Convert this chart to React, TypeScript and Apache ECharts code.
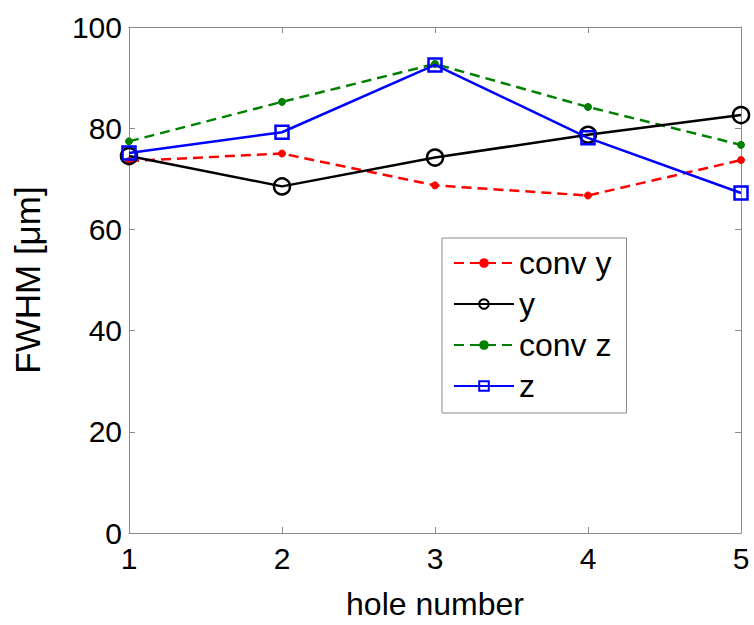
import React, { useEffect, useRef } from "react";
import * as echarts from "echarts";

const holes = [1, 2, 3, 4, 5];
const convY = [73.5, 75.0, 68.7, 66.7, 73.7];
const yVals = [74.5, 68.5, 74.2, 78.7, 82.6];
const convZ = [77.4, 85.2, 92.7, 84.2, 76.7];
const zVals = [75.1, 79.2, 92.5, 78.1, 67.2];

const FONT = "Liberation Sans, Arial, sans-serif";
const AXIS_GRAY = "#8c8c8c";

function pairs(vals: number[]) {
  return holes.map((h, i) => [h, vals[i]]);
}

export default function App() {
  const ref = useRef<HTMLDivElement>(null);
  useEffect(() => {
    if (!ref.current) return;
    const chart = echarts.init(ref.current, null, { renderer: "svg" });
    const axisCommon = {
      axisLine: { show: true, onZero: false, lineStyle: { color: AXIS_GRAY, width: 1 } },
      axisTick: { show: true, inside: true, length: 6, lineStyle: { color: AXIS_GRAY } },
      splitLine: { show: false },
    };
    chart.setOption({
      animation: false,
      backgroundColor: "#ffffff",
      grid: { left: 129, right: 13, top: 27, bottom: 91, containLabel: false },
      xAxis: [
        {
          type: "value",
          min: 1,
          max: 5,
          interval: 1,
          position: "bottom",
          ...axisCommon,
          axisLabel: { color: "#000", fontSize: 30, fontFamily: FONT, margin: 10 },
          name: "hole number",
          nameLocation: "middle",
          nameGap: 55,
          nameTextStyle: { color: "#000", fontSize: 32, fontFamily: FONT },
        },
        {
          type: "value",
          min: 1,
          max: 5,
          interval: 1,
          position: "top",
          ...axisCommon,
          axisLabel: { show: false },
        },
      ],
      yAxis: [
        {
          type: "value",
          min: 0,
          max: 100,
          interval: 20,
          position: "left",
          ...axisCommon,
          axisLabel: { color: "#000", fontSize: 30, fontFamily: FONT, margin: 7 },
          name: "FWHM [μm]",
          nameLocation: "middle",
          nameGap: 84,
          nameTextStyle: { color: "#000", fontSize: 35, fontFamily: FONT },
        },
        {
          type: "value",
          min: 0,
          max: 100,
          interval: 20,
          position: "right",
          ...axisCommon,
          axisLabel: { show: false },
        },
      ],
      legend: {
        show: true,
        orient: "vertical",
        left: 442,
        top: 238,
        itemWidth: 60,
        itemHeight: 12,
        itemGap: 9,
        padding: [9, 15, 11, 11],
        borderColor: AXIS_GRAY,
        borderWidth: 1,
        backgroundColor: "#ffffff",
        textStyle: { color: "#000", fontSize: 32, fontFamily: FONT },
        data: ["conv y", "y", "conv z", "z"],
      },
      series: [
        {
          name: "conv y",
          type: "line",
          data: pairs(convY),
          lineStyle: { color: "#ff0000", width: 2.5, type: [10, 6] },
          itemStyle: { color: "#ff0000", borderColor: "#ff0000" },
          symbol: "circle",
          symbolSize: 7,
          z: 2,
        },
        {
          name: "y",
          type: "line",
          data: pairs(yVals),
          lineStyle: { color: "#000000", width: 2.5 },
          itemStyle: { color: "rgba(0,0,0,0)", borderColor: "#000000", borderWidth: 2.5 },
          symbol: "circle",
          symbolSize: 16,
          z: 3,
        },
        {
          name: "conv z",
          type: "line",
          data: pairs(convZ),
          lineStyle: { color: "#008000", width: 2.5, type: [10, 6] },
          itemStyle: { color: "#008000", borderColor: "#008000" },
          symbol: "circle",
          symbolSize: 7,
          z: 2,
        },
        {
          name: "z",
          type: "line",
          data: pairs(zVals),
          lineStyle: { color: "#0000ff", width: 2.5 },
          itemStyle: { color: "rgba(0,0,0,0)", borderColor: "#0000ff", borderWidth: 2.5 },
          symbol: "rect",
          symbolSize: 13,
          z: 4,
        },
      ],
    });
    return () => chart.dispose();
  }, []);
  return (
    <div
      ref={ref}
      style={{ position: "fixed", left: 0, top: 0, width: 754, height: 625, background: "#fff" }}
    />
  );
}
